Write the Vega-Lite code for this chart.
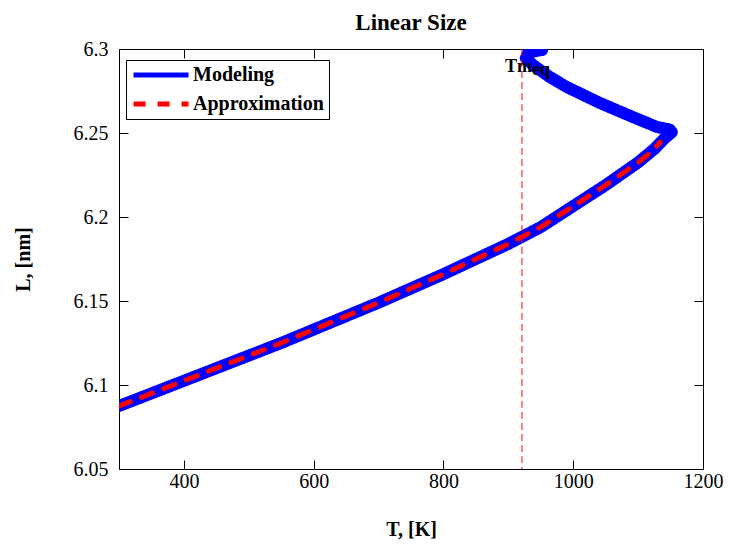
{
  "$schema": "https://vega.github.io/schema/vega-lite/v6.json",
  "width": 584,
  "height": 420,
  "autosize": {"type": "none"},
  "padding": {"left": 119, "top": 49, "right": 27, "bottom": 78},
  "background": "white",
  "config": {
    "font": "Liberation Serif",
    "view": {"stroke": "black", "strokeWidth": 1},
    "axis": {
      "domainColor": "black",
      "grid": false,
      "labelFont": "Liberation Serif",
      "labelFontSize": 20,
      "labelColor": "black",
      "labelFlush": false,
      "labelOverlap": false,
      "labelBound": false,
      "titleFont": "Liberation Serif",
      "titleFontSize": 20,
      "titleFontWeight": "bold",
      "titleColor": "black"
    }
  },
  "title": {
    "text": "Linear Size",
    "font": "Liberation Serif",
    "fontSize": 23,
    "fontWeight": "bold",
    "color": "black",
    "offset": 4
  },
  "datasets": {
    "modeling": [
      {"i": 1, "T": 300, "L": 6.0875},
      {"i": 2, "T": 350, "L": 6.095},
      {"i": 3, "T": 400, "L": 6.1025},
      {"i": 4, "T": 450, "L": 6.11},
      {"i": 5, "T": 500, "L": 6.1175},
      {"i": 6, "T": 550, "L": 6.125},
      {"i": 7, "T": 600, "L": 6.133},
      {"i": 8, "T": 650, "L": 6.141},
      {"i": 9, "T": 700, "L": 6.149},
      {"i": 10, "T": 750, "L": 6.1575},
      {"i": 11, "T": 800, "L": 6.166},
      {"i": 12, "T": 850, "L": 6.175},
      {"i": 13, "T": 900, "L": 6.184},
      {"i": 14, "T": 950, "L": 6.194},
      {"i": 15, "T": 1000, "L": 6.2065},
      {"i": 16, "T": 1050, "L": 6.219},
      {"i": 17, "T": 1100, "L": 6.2325},
      {"i": 18, "T": 1125, "L": 6.2405},
      {"i": 19, "T": 1140, "L": 6.2465},
      {"i": 20, "T": 1152, "L": 6.2505},
      {"i": 21, "T": 1149, "L": 6.252},
      {"i": 22, "T": 1129, "L": 6.2536},
      {"i": 23, "T": 1092, "L": 6.2595},
      {"i": 24, "T": 1041, "L": 6.2679},
      {"i": 25, "T": 990, "L": 6.2774},
      {"i": 26, "T": 964, "L": 6.2833},
      {"i": 27, "T": 938, "L": 6.2905},
      {"i": 28, "T": 927, "L": 6.2946},
      {"i": 29, "T": 931, "L": 6.298},
      {"i": 30, "T": 952, "L": 6.2994}
    ],
    "approx": [
      {"i": 1, "T": 300, "L": 6.0875},
      {"i": 2, "T": 350, "L": 6.095},
      {"i": 3, "T": 400, "L": 6.1025},
      {"i": 4, "T": 450, "L": 6.11},
      {"i": 5, "T": 500, "L": 6.1175},
      {"i": 6, "T": 550, "L": 6.125},
      {"i": 7, "T": 600, "L": 6.133},
      {"i": 8, "T": 650, "L": 6.141},
      {"i": 9, "T": 700, "L": 6.149},
      {"i": 10, "T": 750, "L": 6.1575},
      {"i": 11, "T": 800, "L": 6.166},
      {"i": 12, "T": 850, "L": 6.175},
      {"i": 13, "T": 900, "L": 6.184},
      {"i": 14, "T": 950, "L": 6.194},
      {"i": 15, "T": 1000, "L": 6.2065},
      {"i": 16, "T": 1050, "L": 6.219},
      {"i": 17, "T": 1100, "L": 6.2325},
      {"i": 18, "T": 1120, "L": 6.2385},
      {"i": 19, "T": 1134, "L": 6.2445}
    ],
    "tmeq": [
      {"T": 921, "name": "Tm", "sub": "eq"}
    ]
  },
  "layer": [
    {
      "data": {"name": "modeling"},
      "mark": {"type": "line", "strokeWidth": 12, "strokeCap": "round", "strokeJoin": "round", "clip": true},
      "encoding": {
        "x": {
          "field": "T", "type": "quantitative",
          "scale": {"domain": [300, 1200], "nice": false, "zero": false},
          "axis": {"orient": "bottom", "values": [400, 600, 800, 1000, 1200], "format": "d", "title": "T, [K]", "ticks": true, "tickColor": "black", "tickWidth": 1, "tickSize": 9, "offset": -9, "zindex": 1, "domain": false, "labelPadding": 2, "titlePadding": 28}
        },
        "y": {
          "field": "L", "type": "quantitative",
          "scale": {"domain": [6.05, 6.3], "nice": false, "zero": false},
          "axis": {"orient": "left", "values": [6.05, 6.1, 6.15, 6.2, 6.25, 6.3], "format": "~g", "title": "L, [nm]", "ticks": true, "tickColor": "black", "tickWidth": 1, "tickSize": 9, "offset": -9, "zindex": 1, "domain": false, "labelPadding": 11, "titlePadding": 40}
        },
        "order": {"field": "i", "type": "quantitative"},
        "color": {
          "datum": "Modeling",
          "scale": {"domain": ["Modeling", "Approximation"], "range": ["#0000ff", "#ff0000"]},
          "legend": {
            "orient": "none", "legendX": 7, "legendY": 11, "title": null,
            "symbolType": "stroke", "symbolStrokeWidth": 5, "symbolSize": 3025, "clipHeight": 20,
            "labelFont": "Liberation Serif", "labelFontSize": 20, "labelFontWeight": "bold", "labelColor": "black",
            "labelOffset": 2, "strokeColor": "black", "fillColor": "white", "padding": 5, "rowPadding": 9
          }
        },
        "strokeDash": {
          "datum": "Modeling",
          "scale": {"domain": ["Modeling", "Approximation"], "range": [[1, 0], [12, 12]]},
          "legend": {
            "orient": "none", "legendX": 7, "legendY": 11, "title": null,
            "symbolType": "stroke", "symbolStrokeWidth": 5, "symbolSize": 3025, "clipHeight": 20,
            "labelFont": "Liberation Serif", "labelFontSize": 20, "labelFontWeight": "bold", "labelColor": "black",
            "labelOffset": 2, "strokeColor": "black", "fillColor": "white", "padding": 5, "rowPadding": 9
          }
        }
      }
    },
    {
      "data": {"name": "approx"},
      "mark": {"type": "line", "strokeWidth": 5, "strokeCap": "round", "strokeJoin": "round", "clip": true},
      "encoding": {
        "x": {"field": "T", "type": "quantitative", "scale": {"domain": [300, 1200], "nice": false, "zero": false}, "axis": null},
        "y": {"field": "L", "type": "quantitative", "scale": {"domain": [6.05, 6.3], "nice": false, "zero": false}, "axis": null},
        "order": {"field": "i", "type": "quantitative"},
        "color": {"datum": "Approximation"},
        "strokeDash": {"datum": "Approximation"}
      }
    },
    {
      "data": {"name": "tmeq"},
      "mark": {"type": "rule", "color": "#ff0000", "strokeWidth": 1, "strokeDash": [7, 4]},
      "encoding": {
        "x": {
          "field": "T", "type": "quantitative",
          "scale": {"domain": [300, 1200], "nice": false, "zero": false},
          "axis": {"orient": "top", "values": [400, 600, 800, 1000, 1200], "labels": false, "title": null, "ticks": true, "tickColor": "black", "tickWidth": 1, "tickSize": 9, "offset": -9, "zindex": 1, "domain": false}
        }
      }
    },
    {
      "data": {"name": "tmeq"},
      "mark": {"type": "text", "align": "left", "baseline": "alphabetic", "dx": -17, "font": "Liberation Serif", "fontSize": 18, "fontWeight": "bold", "color": "black"},
      "encoding": {
        "x": {"field": "T", "type": "quantitative", "scale": {"domain": [300, 1200], "nice": false, "zero": false}, "axis": null},
        "y": {
          "datum": 6.2863, "type": "quantitative",
          "scale": {"domain": [6.05, 6.3], "nice": false, "zero": false},
          "axis": {"orient": "right", "values": [6.05, 6.1, 6.15, 6.2, 6.25, 6.3], "labels": false, "title": null, "ticks": true, "tickColor": "black", "tickWidth": 1, "tickSize": 9, "offset": -9, "zindex": 1, "domain": false}
        },
        "text": {"field": "name"}
      }
    },
    {
      "data": {"name": "tmeq"},
      "mark": {"type": "text", "align": "left", "baseline": "alphabetic", "dx": 10, "font": "Liberation Serif", "fontSize": 18, "fontWeight": "bold", "color": "black"},
      "encoding": {
        "x": {"field": "T", "type": "quantitative", "scale": {"domain": [300, 1200], "nice": false, "zero": false}, "axis": null},
        "y": {"datum": 6.2845, "type": "quantitative", "scale": {"domain": [6.05, 6.3], "nice": false, "zero": false}, "axis": null},
        "text": {"field": "sub"}
      }
    }
  ],
  "resolve": {"scale": {"x": "independent", "y": "independent"}}
}
